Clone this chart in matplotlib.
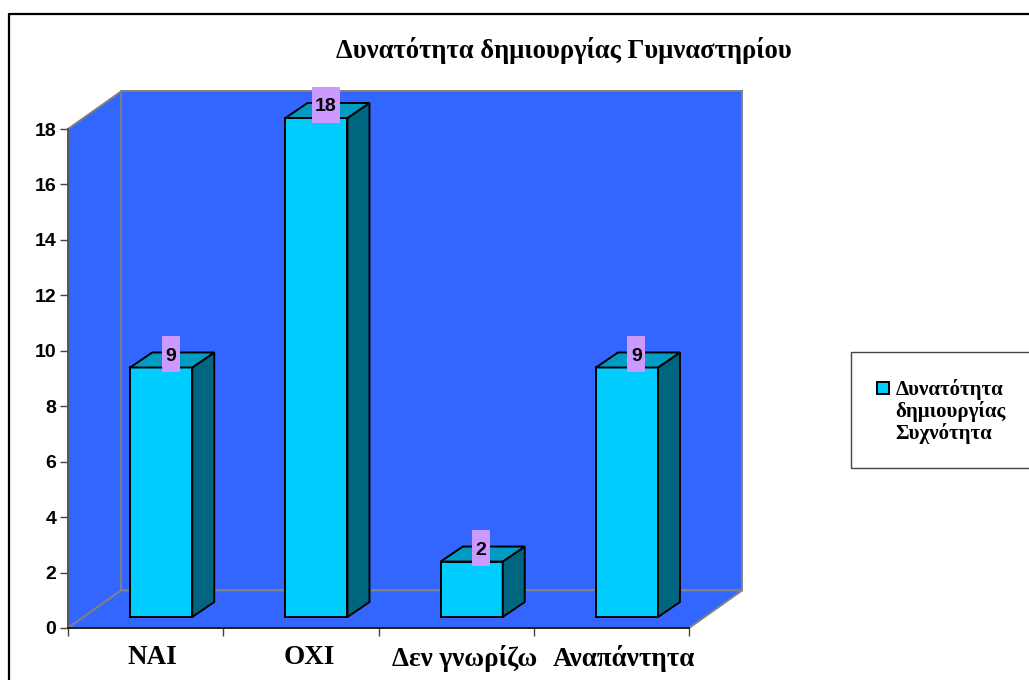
import matplotlib
matplotlib.use('Agg')
import matplotlib.pyplot as plt
from matplotlib.patches import Polygon, Rectangle, Patch

categories = ['NAI', 'OXI', 'Δεν γνωρίζω', 'Αναπάντητα']
values = [9, 18, 2, 9]
y_ticks = [0, 2, 4, 6, 8, 10, 12, 14, 16, 18]
title = 'Δυνατότητα δημιουργίας Γυμναστηρίου'
legend_label = 'Δυνατότητα\nδημιουργίας\nΣυχνότητα'

W, H = 1029, 680
BLUE = '#3366FF'
WALL = '#808080'
SERIF = 'Liberation Serif'
SANS = 'Liberation Sans'

fig = plt.figure(figsize=(W / 100, H / 100), dpi=100)
ax = fig.add_axes([68 / W, (H - 628) / H, 621 / W, 499 / H])
ax.set_xlim(0, len(categories))
ax.set_ylim(0, 18)
ax.patch.set_visible(False)

# one category is 155.25 px, one y unit 27.72 px
wall_dx = 53 / 155.25
wall_dy = 37.5 / 27.72
bar_w = 62 / 155.25
bar_off = 15.6 / 155.25
bar_dx = 22 / 155.25
bar_dy = 15 / 27.72
bar_base = 11 / 27.72
n = len(categories)


def poly(pts, fc, ec, lw, z):
    ax.add_patch(Polygon(pts, closed=True, facecolor=fc, edgecolor=ec, linewidth=lw,
                         zorder=z, clip_on=False, joinstyle='miter'))


# walls and floor
poly([(0, 18), (wall_dx, 18 + wall_dy), (wall_dx, wall_dy), (0, 0)], BLUE, WALL, 1.4, 1)
poly([(wall_dx, wall_dy), (n + wall_dx, wall_dy), (n + wall_dx, 18 + wall_dy), (wall_dx, 18 + wall_dy)],
     BLUE, WALL, 1.4, 1)
poly([(0, 0), (n, 0), (n + wall_dx, wall_dy), (wall_dx, wall_dy)], BLUE, WALL, 1.4, 1)
ax.plot([0, n], [0, 0], color='#222222', lw=1.4, zorder=1.5, clip_on=False)

# bars
for i, v in enumerate(values):
    x0 = i + 0.5 + bar_off - bar_w / 2
    x1 = x0 + bar_w
    y0 = bar_base
    y1 = v + bar_base
    poly([(x0, y0), (x1, y0), (x1, y1), (x0, y1)], '#00CCFF', 'black', 1.4, 3)
    poly([(x1, y0), (x1 + bar_dx, y0 + bar_dy), (x1 + bar_dx, y1 + bar_dy), (x1, y1)],
         '#006680', 'black', 1.4, 3)
    poly([(x0, y1), (x1, y1), (x1 + bar_dx, y1 + bar_dy), (x0 + bar_dx, y1 + bar_dy)],
         '#009CC4', 'black', 1.4, 3)
    # value label
    lx = i + 0.5 + 25 / 155.25
    ly = v + 0.87
    box_w = (28 if v >= 10 else 18) / 155.25
    box_h = 36 / 27.72
    ax.add_patch(Rectangle((lx - box_w / 2, ly - box_h / 2), box_w, box_h, facecolor='#CC99FF',
                           edgecolor='none', zorder=4, clip_on=False))
    ax.text(lx, ly, str(v), ha='center', va='center_baseline', fontsize=14, fontweight='bold',
            family=SANS, zorder=5, clip_on=False)

# axes
for s in ['top', 'right']:
    ax.spines[s].set_visible(False)
ax.spines['left'].set_color('#555555')
ax.spines['bottom'].set_color('#222222')
ax.spines['left'].set_linewidth(1.4)
ax.spines['bottom'].set_linewidth(1.4)
ax.set_yticks(y_ticks)
ax.set_yticklabels([str(t) for t in y_ticks], fontsize=14, fontweight='bold', family=SANS)
ax.tick_params(axis='y', length=5.5, width=1, color='#444444', pad=3)
ax.set_xticks(range(n + 1))
ax.set_xticklabels([])
ax.tick_params(axis='x', length=5.5, width=1, color='#444444')
ax.set_xticks([0.541, 1.552, 2.557, 3.581], minor=True)
ax.set_xticklabels(categories, minor=True, fontsize=19.5, fontweight='bold', family=SERIF)
ax.tick_params(axis='x', which='minor', length=0, pad=12)

fig.text(564 / W, 1 - 50 / H, title, ha='center', va='center', fontsize=19.2, fontweight='bold', family=SERIF)

# outer chart frame, open at the right and bottom
fig.add_artist(plt.Line2D([9 / W, 9 / W, 1], [0, 1 - 14 / H, 1 - 14 / H], color='black', lw=1.6))

# legend
fig.add_artist(Rectangle((851 / W, 1 - 468 / H), 200 / W, 116 / H, transform=fig.transFigure,
                         facecolor='white', edgecolor='#444444', lw=1))
leg = fig.legend(handles=[Patch(facecolor='#00CCFF', edgecolor='black', linewidth=1.4, label=legend_label)],
                 loc='upper left', bbox_to_anchor=(877 / W, 1 - 379 / H), frameon=False,
                 prop={'family': SERIF, 'weight': 'bold', 'size': 15},
                 handlelength=0.58, handleheight=0.58, handletextpad=0.3, borderpad=0, borderaxespad=0)
leg.get_texts()[0].set_linespacing(1.06)
# the key sits next to the first line of the label
h = leg.legend_handles[0]
h.set_y(h.get_y() + 17)

fig.savefig('out.png', dpi=100)
